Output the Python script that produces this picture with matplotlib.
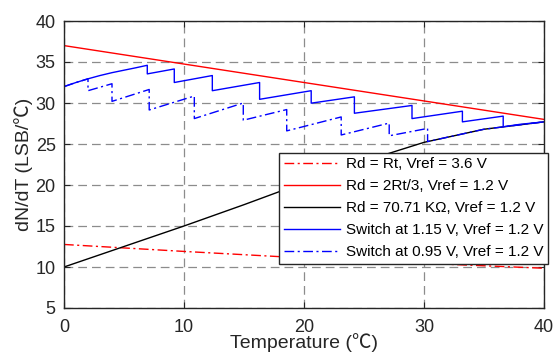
import matplotlib
matplotlib.use("Agg")
import matplotlib.pyplot as plt

plt.rcParams['font.family'] = ['Liberation Sans', 'Noto Sans CJK SC', 'DejaVu Sans']

# Rd = Rt, Vref = 3.6 V
t_rt = [0, 10, 20, 30, 40]
v_rt = [12.75, 11.9, 11.1, 10.45, 9.85]

# Rd = 2Rt/3, Vref = 1.2 V
t_2rt = [0, 40]
v_2rt = [37.0, 28.0]

# Rd = 70.71 KOhm, Vref = 1.2 V
t_fix = [0, 5, 10, 15, 20, 25, 30, 35, 40]
v_fix = [10.0, 12.5, 15.0, 17.6, 20.3, 22.9, 25.2, 26.8, 27.7]

# switch at 1.15 V (repeated T = vertical drop at the switch)
t_sw115 = [0, 1, 2, 3, 4, 5, 6, 6.94, 6.94, 9.19, 9.19, 12.36, 12.36, 16.3, 16.3,
           20.6, 20.6, 24.2, 24.2, 29.0, 29.0, 33.2, 33.2, 36.6, 36.6, 38, 40]
v_sw115 = [32.0, 32.5, 32.95, 33.35, 33.7, 34.0, 34.3, 34.6, 33.55, 34.15, 32.5, 33.35, 31.5,
           32.5, 30.45, 31.5, 29.98, 30.75, 28.75, 29.7, 28.1, 29.0, 27.7, 28.4, 27.1, 27.4, 27.7]

# switch at 0.95 V
t_sw095 = [0, 1, 2, 2, 4.0, 4.0, 7.1, 7.1, 10.86, 10.86, 14.94, 14.94, 18.56, 18.56,
           23.1, 23.1, 27.1, 27.1, 30.3, 30.3, 35, 40]
v_sw095 = [32.0, 32.5, 32.95, 31.5, 32.35, 30.2, 31.65, 29.15, 30.85, 28.1, 30.0, 27.9, 29.2,
           26.6, 28.3, 26.1, 27.55, 26.0, 26.9, 25.3, 26.8, 27.7]

labels = ["Rd = Rt, Vref = 3.6 V",
          "Rd = 2Rt/3, Vref = 1.2 V",
          "Rd = 70.71 K\u03a9, Vref = 1.2 V",
          "Switch at 1.15 V, Vref = 1.2 V",
          "Switch at 0.95 V, Vref = 1.2 V"]

fig = plt.figure(figsize=(5.57, 3.54), dpi=100)
ax = fig.add_axes([64 / 557, 1 - 308 / 354, 480 / 557, 287 / 354])

lw = 1.0
dashdot = (0, (7, 2.5, 1.5, 2.5))
ax.plot(t_rt, v_rt, color="red", ls=dashdot, lw=lw, label=labels[0])
ax.plot(t_2rt, v_2rt, color="red", lw=lw, label=labels[1])
ax.plot(t_fix, v_fix, color="black", lw=lw, label=labels[2])
ax.plot(t_sw115, v_sw115, color="blue", lw=lw, label=labels[3])
ax.plot(t_sw095, v_sw095, color="blue", ls=dashdot, lw=lw, label=labels[4])

ax.set_xlim(0, 40)
ax.set_ylim(5, 40)
ax.set_xticks(range(0, 41, 10))
ax.set_yticks(range(5, 41, 5))
ax.grid(True, color="#8c8c8c", ls=(0, (7, 4)), lw=0.9)
ax.tick_params(direction="in", top=True, right=True, length=4, labelsize=13,
               colors="#262626", labelcolor="#262626")
ax.tick_params(axis="x", pad=8)
ax.tick_params(axis="y", pad=6)
for s in ax.spines.values():
    s.set_color("#262626")
    s.set_linewidth(1.0)

ax.set_xlabel("Temperature (\u2103)", fontsize=14, color="#262626", labelpad=-2)
ax.set_ylabel("dN/dT (LSB/\u2103)", fontsize=14, color="#262626", labelpad=2)

leg = ax.legend(loc="upper left", bbox_to_anchor=(279 / 557, 1 - 152.7 / 354),
                bbox_transform=fig.transFigure, borderaxespad=0, fontsize=11,
                handlelength=3.7, handletextpad=0.4, labelspacing=0.52,
                borderpad=0.3, fancybox=False, framealpha=1, edgecolor="#262626")
leg.get_frame().set_linewidth(1.0)

fig.savefig("out.png", dpi=100)
